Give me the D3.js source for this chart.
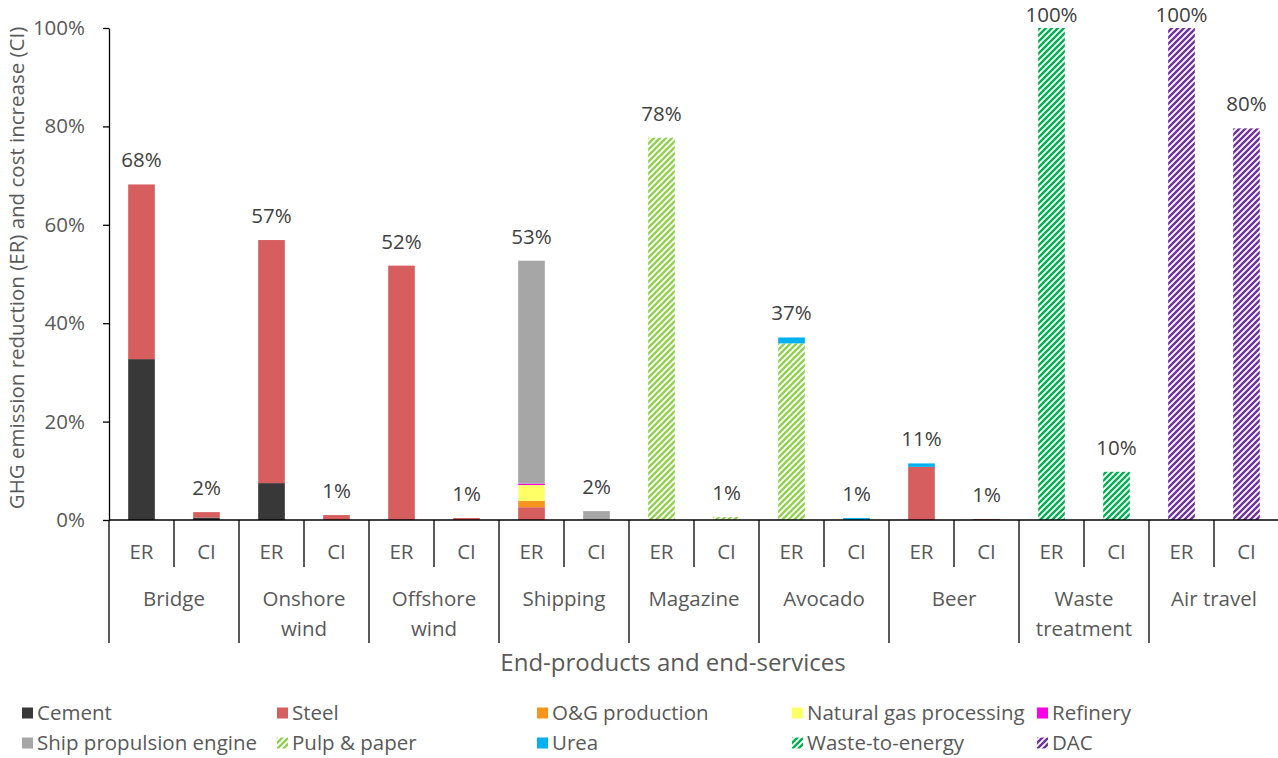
<!DOCTYPE html>
<html>
  <head>
    <meta charset="utf-8">
    <title>GHG emission reduction and cost increase</title>
    <script src="https://cdn.jsdelivr.net/npm/d3@7"></script>
    <style type="text/css">
        body { margin: 0; background: #fff; }
        svg { font-family: "Open Sans", Lato, sans-serif; }
    </style>
  </head>
  <body>
    <div id="viz"></div>
    <script type="text/javascript">
        // groups on the x axis, each has an ER bar and a CI bar
        var groups = ["Bridge", "Onshore wind", "Offshore wind", "Shipping", "Magazine",
                      "Avocado", "Beer", "Waste treatment", "Air travel"];
        var subLabels = ["ER", "CI"];

        // one value per bar (Bridge ER, Bridge CI, Onshore ER, ...), in percent
        var cement      = [32.7, 0.5, 7.5, 0,   0,    0,   0,    0,   0,    0,   0,    0,   0,    0,   0,   0,   0,   0];
        var steel       = [35.5, 1.1, 49.4, 1.0, 51.7, 0.4, 2.6,  0,   0,    0,   0,    0,   10.8, 0.2, 0,   0,   0,   0];
        var ogProd      = [0,    0,   0,    0,   0,    0,   1.3,  0,   0,    0,   0,    0,   0,    0,   0,   0,   0,   0];
        var natGas      = [0,    0,   0,    0,   0,    0,   3.2,  0,   0,    0,   0,    0,   0,    0,   0,   0,   0,   0];
        var refinery    = [0,    0,   0,    0,   0,    0,   0.3,  0,   0,    0,   0,    0,   0,    0,   0,   0,   0,   0];
        var shipEngine  = [0,    0,   0,    0,   0,    0,   45.3, 1.8, 0,    0,   0,    0,   0,    0,   0,   0,   0,   0];
        var pulpPaper   = [0,    0,   0,    0,   0,    0,   0,    0,   77.7, 0.6, 35.9, 0,   0,    0,   0,   0,   0,   0];
        var urea        = [0,    0,   0,    0,   0,    0,   0,    0,   0,    0,   1.2,  0.4, 0.7,  0,   0,   0,   0,   0];
        var wasteEnergy = [0,    0,   0,    0,   0,    0,   0,    0,   0,    0,   0,    0,   0,    0,   100, 9.8, 0,   0];
        var dac         = [0,    0,   0,    0,   0,    0,   0,    0,   0,    0,   0,    0,   0,    0,   0,   0,   100, 79.6];

        // labels printed on top of each bar
        var totalLabels = ["68%", "2%", "57%", "1%", "52%", "1%", "53%", "2%", "78%",
                           "1%", "37%", "1%", "11%", "1%", "100%", "10%", "100%", "80%"];
        var yTicks = [0, 20, 40, 60, 80, 100];

        var seriesNames = ["Cement", "Steel", "O&G production", "Natural gas processing", "Refinery",
                           "Ship propulsion engine", "Pulp & paper", "Urea", "Waste-to-energy", "DAC"];
        var seriesValues = [cement, steel, ogProd, natGas, refinery, shipEngine, pulpPaper, urea, wasteEnergy, dac];
        var seriesColors = ["#383838", "#D75E5E", "#F7941D", "#FFFF66", "#FF00E6",
                            "#A6A6A6", "#92D050", "#00B0F0", "#00B050", "#7030A0"];
        var hatched = [false, false, false, false, false, false, true, false, true, true];

        // rows for d3.stack
        var rows = d3.range(groups.length * 2).map(function(i) {
            var r = { idx: i };
            seriesNames.forEach(function(name, k) { r[name] = seriesValues[k][i]; });
            return r;
        });

        var width = 1278, height = 758;
        var fontSize = "20.5px";
        var svg = d3.select("#viz").append("svg")
            .attr("width", width).attr("height", height);

        // hatch patterns (wide upward diagonal)
        var defs = svg.append("defs");
        seriesNames.forEach(function(name, k) {
            if (!hatched[k]) return;
            var p = defs.append("pattern")
                .attr("id", "hatch" + k)
                .attr("patternUnits", "userSpaceOnUse")
                .attr("width", 6).attr("height", 6);
            p.append("rect").attr("width", 6).attr("height", 6).attr("fill", "#fff");
            p.append("path")
                .attr("d", "M-1,1 l2,-2 M0,6 l6,-6 M5,7 l2,-2")
                .attr("stroke", seriesColors[k])
                .attr("stroke-width", 2.4);
        });
        function fillFor(k) { return hatched[k] ? "url(#hatch" + k + ")" : seriesColors[k]; }

        var x = d3.scaleBand()
            .domain(d3.range(rows.length))
            .range([109, 1279])
            .paddingInner(0.59)
            .paddingOuter(0.295);
        var y = d3.scaleLinear().domain([0, 100]).range([520, 28]);

        var stack = d3.stack().keys(seriesNames);
        var layers = stack(rows);

        // bars
        svg.append("g").selectAll("g")
            .data(layers)
            .enter().append("g")
            .attr("fill", function(d, k) { return fillFor(k); })
            .selectAll("rect")
            .data(function(d) { return d; })
            .enter().append("rect")
            .filter(function(d) { return d[1] - d[0] > 0; })
            .attr("x", function(d) { return x(d.data.idx); })
            .attr("width", x.bandwidth())
            .attr("y", function(d) { return y(d[1]); })
            .attr("height", function(d) { return y(d[0]) - y(d[1]); });

        // percent labels on top (kept inside the chart area, like Excel does)
        svg.append("g").selectAll("text")
            .data(rows)
            .enter().append("text")
            .attr("x", function(d) { return x(d.idx) + x.bandwidth() / 2; })
            .attr("y", function(d) {
                var total = d3.sum(seriesNames, function(n) { return d[n]; });
                return Math.max(y(total) - 17, 22);
            })
            .attr("text-anchor", "middle")
            .attr("font-size", fontSize)
            .attr("fill", "#404040")
            .text(function(d, i) { return totalLabels[i]; });

        // y axis
        var yAxis = svg.append("g")
            .attr("transform", "translate(109,0)")
            .call(d3.axisLeft(y).tickValues(yTicks)
                .tickFormat(function(d) { return d + "%"; })
                .tickSize(6).tickSizeOuter(0).tickPadding(18));
        yAxis.selectAll("text").attr("font-size", fontSize).attr("fill", "#595959")
            .attr("font-family", "'Open Sans', sans-serif");
        yAxis.selectAll("line, path").attr("stroke", "#000").attr("stroke-width", 1.3);

        // x axis: baseline plus separators between bars and groups
        var x0 = x.range()[0], step = x.step();
        var xAxis = svg.append("g");
        xAxis.append("line")
            .attr("x1", x0).attr("x2", x.range()[1])
            .attr("y1", 520).attr("y2", 520)
            .attr("stroke", "#000").attr("stroke-width", 1.3);
        xAxis.selectAll("line.sep")
            .data(d3.range(rows.length + 1))
            .enter().append("line")
            .attr("class", "sep")
            .attr("x1", function(i) { return x0 + i * step; })
            .attr("x2", function(i) { return x0 + i * step; })
            .attr("y1", 520)
            .attr("y2", function(i) { return i % 2 === 0 ? 643 : 567; })
            .attr("stroke", "#000").attr("stroke-width", 1.3);

        // ER / CI labels
        xAxis.selectAll("text.sub")
            .data(rows)
            .enter().append("text")
            .attr("class", "sub")
            .attr("x", function(d) { return x(d.idx) + x.bandwidth() / 2; })
            .attr("y", 559)
            .attr("text-anchor", "middle")
            .attr("font-size", fontSize)
            .attr("fill", "#595959")
            .text(function(d) { return subLabels[d.idx % 2]; });

        // group labels, wrapped onto two lines when long
        xAxis.selectAll("text.grp")
            .data(groups)
            .enter().append("text")
            .attr("class", "grp")
            .attr("text-anchor", "middle")
            .attr("font-size", fontSize)
            .attr("fill", "#595959")
            .each(function(g, i) {
                var cx = x0 + (i * 2 + 1) * step;
                var lines = g.length > 10 ? g.split(" ") : [g];
                var t = d3.select(this);
                lines.forEach(function(l, j) {
                    t.append("tspan").attr("x", cx).attr("y", 606 + j * 30).text(l);
                });
            });

        // axis titles
        svg.append("text")
            .attr("x", 673).attr("y", 671)
            .attr("text-anchor", "middle")
            .attr("font-size", "24px")
            .attr("fill", "#595959")
            .text("End-products and end-services");
        svg.append("text")
            .attr("transform", "translate(24,268) rotate(-90)")
            .attr("text-anchor", "middle")
            .attr("font-size", fontSize)
            .attr("fill", "#595959")
            .text("GHG emission reduction (ER) and cost increase (CI)");

        // legend: 5 columns, 2 rows
        var legendCols = [22, 277, 537, 792, 1037];
        var legendRows = [713, 743];
        var legend = svg.append("g").selectAll("g")
            .data(seriesNames)
            .enter().append("g")
            .attr("transform", function(d, k) {
                return "translate(" + legendCols[k % 5] + "," + legendRows[Math.floor(k / 5)] + ")";
            });
        legend.append("rect")
            .attr("x", 0).attr("y", -5.5)
            .attr("width", 11).attr("height", 11)
            .attr("fill", function(d, k) { return fillFor(k); });
        legend.append("text")
            .attr("x", 15).attr("y", 7)
            .attr("font-size", fontSize)
            .attr("fill", "#595959")
            .text(function(d) { return d; });
    </script>
  </body>
</html>
